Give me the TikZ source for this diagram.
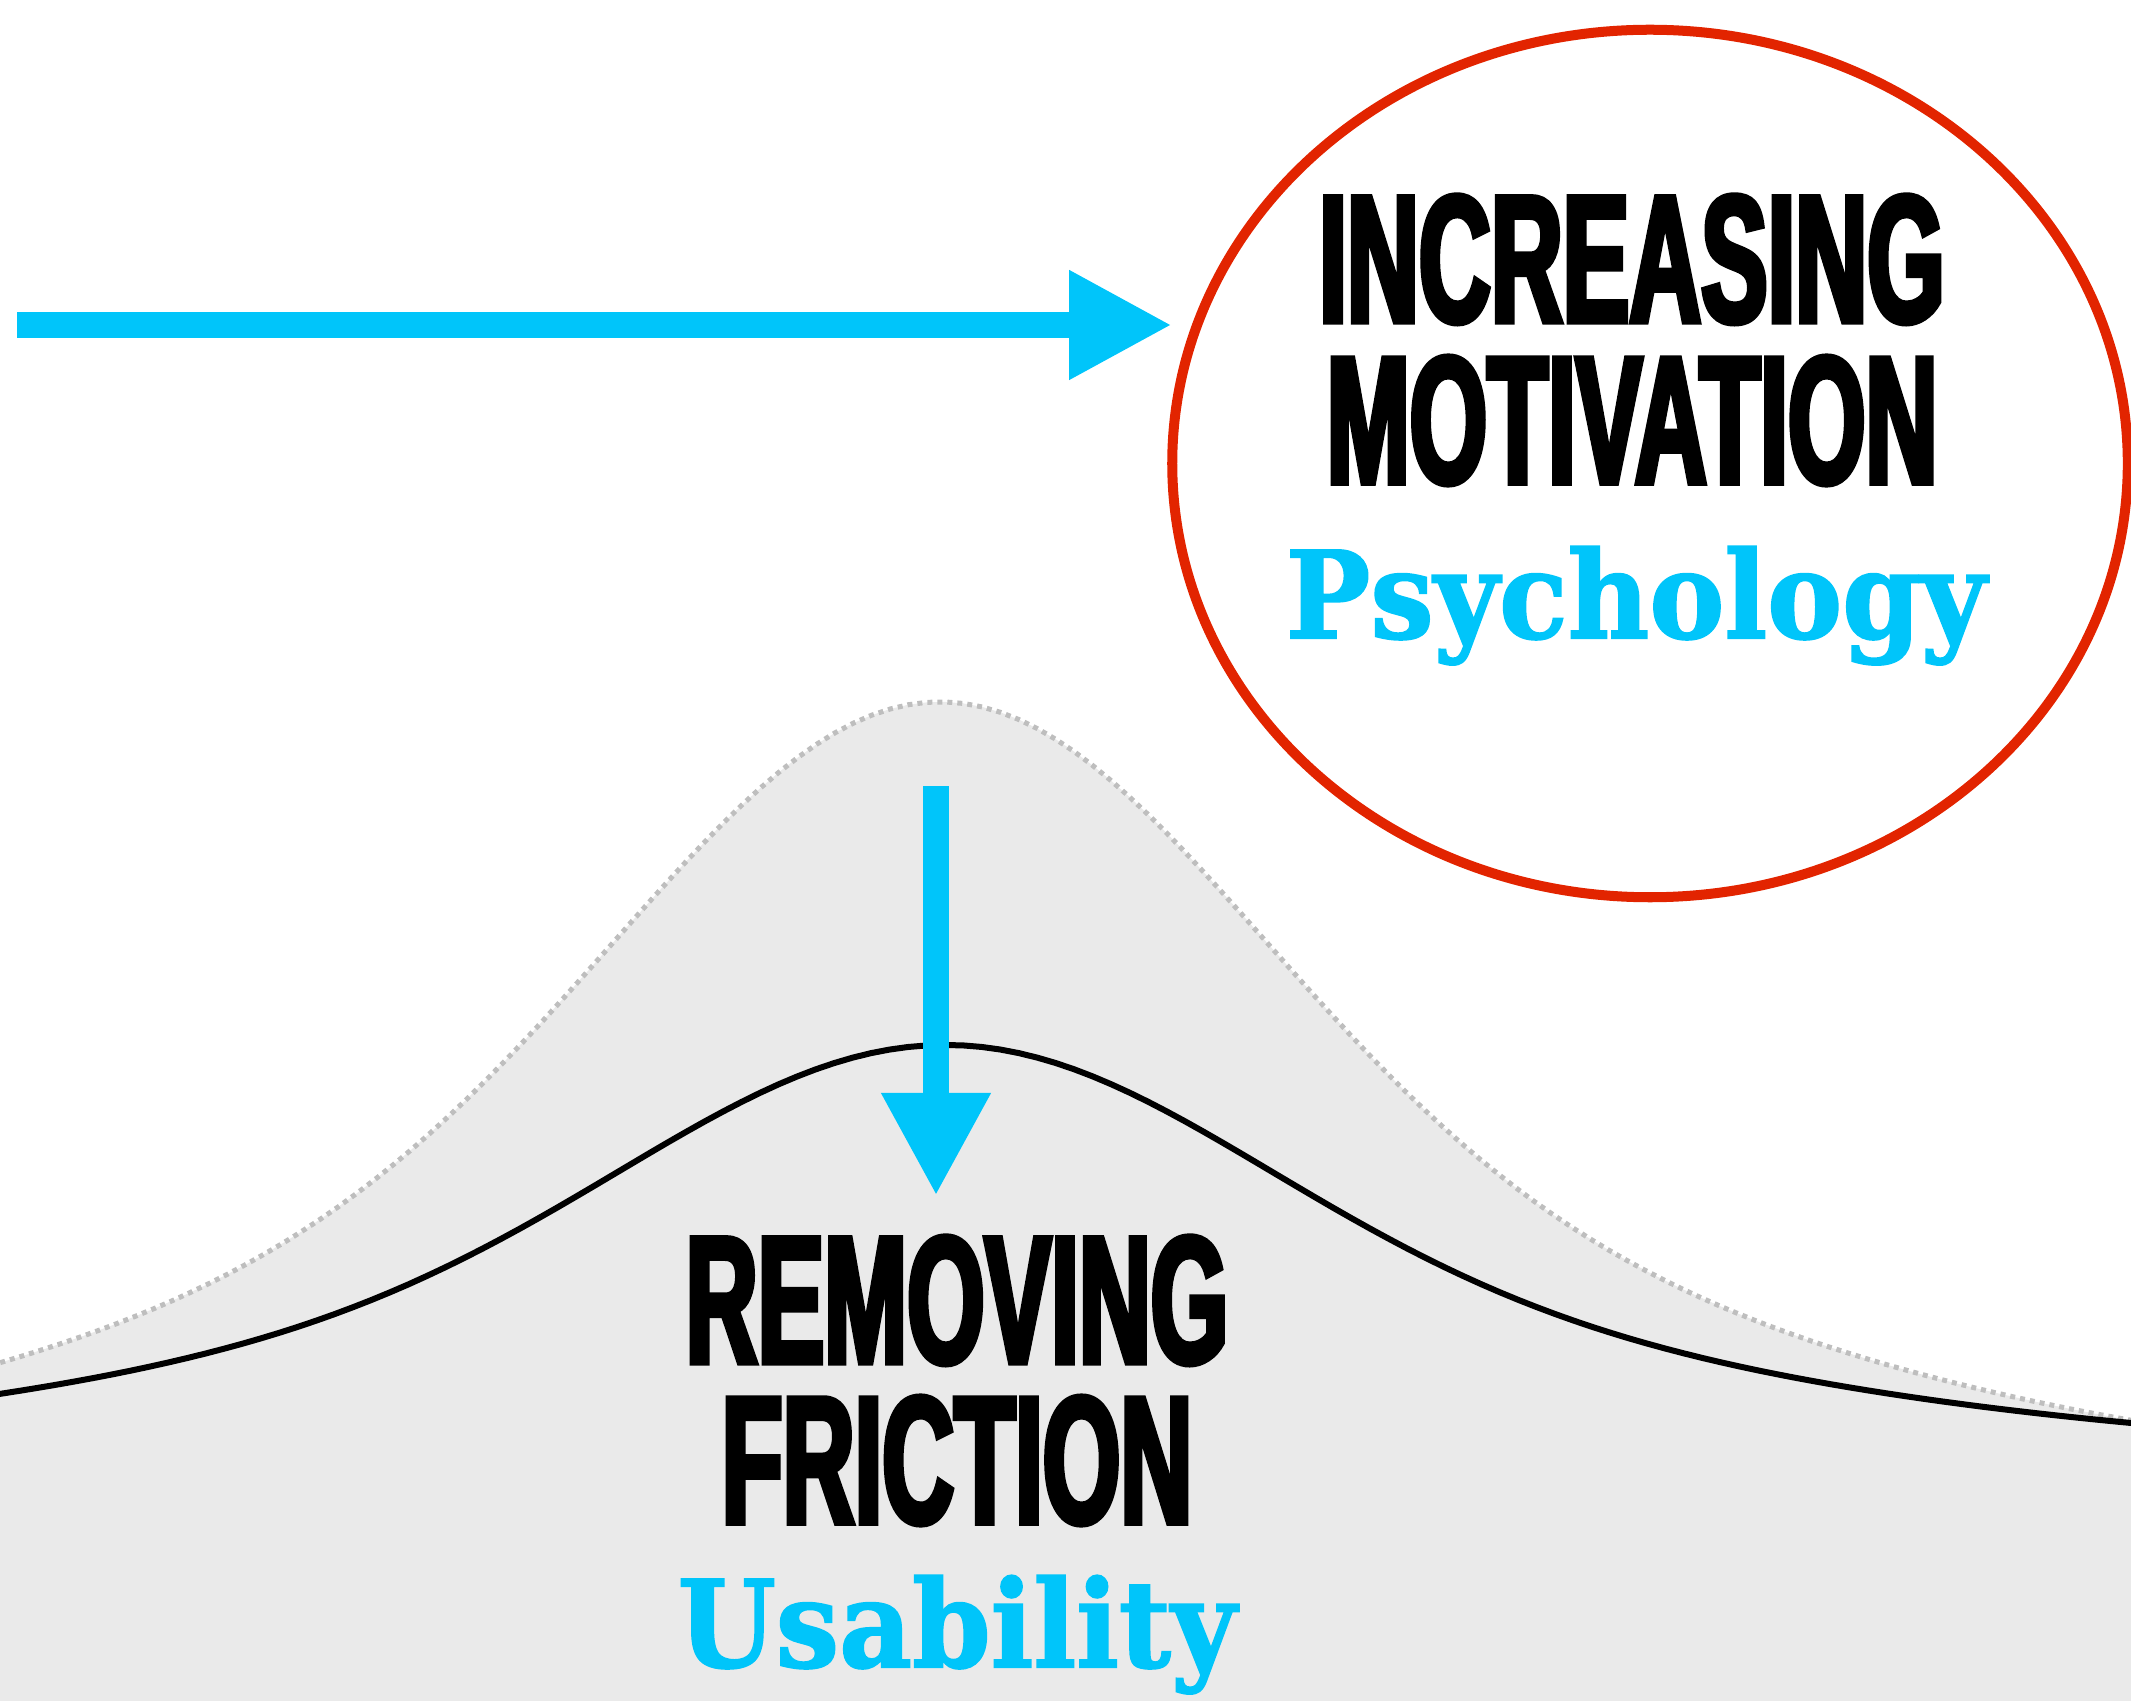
\documentclass[tikz,border=0pt]{standalone}
\usepackage{fontspec}
\usepackage{tikz}
\usetikzlibrary{arrows.meta,positioning,shapes.geometric}
\newfontfamily\condfont[FakeStretch=0.548,FakeBold=3]{Liberation Sans}
\newfontfamily\slabfont[FakeStretch=0.93,FakeBold=1.5]{DejaVu Serif}
\definecolor{FlowCyan}{HTML}{00C5FA}
\definecolor{RingRed}{HTML}{E22400}
\definecolor{AreaGray}{HTML}{EAEAEA}
\definecolor{DotGray}{HTML}{BEBEBE}

\begin{document}
\begin{tikzpicture}[
    x=0.01cm, y=-0.01cm,
    head/.style={font=\condfont\bfseries\fontsize{51.7pt}{52pt}\selectfont, anchor=base, inner sep=0pt, text height=1.32cm, text depth=0pt},
    sub/.style={font=\slabfont\bfseries\fontsize{34.4pt}{35pt}\selectfont, text=FlowCyan, anchor=base, inner sep=0pt},
    ring/.style={draw=RingRed, line width=0.1cm, ellipse, minimum width=9.55cm, minimum height=8.67cm, inner sep=0pt, outer sep=0pt},
    arr/.style={-{Triangle[length=1.03cm, width=1.02cm]}, line width=0.26cm, draw=FlowCyan},
    bigcurve/.style={draw=DotGray, fill=AreaGray, line width=0.05cm, dash pattern=on 0.05cm off 0.05cm},
    smallcurve/.style={draw=black, line width=0.06cm}
]
\useasboundingbox (0,0) rectangle (2131,1701);

% 灰色区域与两条曲线 (t 以 100 像素为单位)
\draw[bigcurve] (-30,1760) -- plot[domain=-9.7:12.2, samples=120, variable=\t]
    ({940+100*\t}, {1482-450*exp(-\t*\t/18)-330*exp(-\t*\t/84.5)}) -- (2160,1760) -- cycle;
\draw[smallcurve] plot[domain=-9.8:12.2, samples=120, variable=\t]
    ({945+100*\t}, {1456-237*exp(-\t*\t/18)-174*exp(-\t*\t/84.5)});

% 节点
\node[ring] (motiv) at (1650,463.5) {};
\node[head] (incr) at (1632,322) {INCREASING};
\node[head] (motv) at ([yshift=-1.61cm]incr.base) {MOTIVATION};
\node[sub] (psych) at ([yshift=-1.55cm, xshift=0.04cm]motv.base) {Psychology};
\node[head] (remv) at (957,1363) {REMOVING};
\node[head] (fric) at ([yshift=-1.60cm]remv.base) {FRICTION};
\node[sub] (usab) at ([yshift=-1.44cm]fric.base) {Usability};

% 箭头
\coordinate (hstart) at (17,325);
\coordinate (vtop) at (936,786);
\coordinate (vtip) at (936,1196);
\draw[arr] (hstart) -- (hstart -| motiv.west);
\draw[arr] (vtop) -- (vtip);
\end{tikzpicture}
\end{document}
